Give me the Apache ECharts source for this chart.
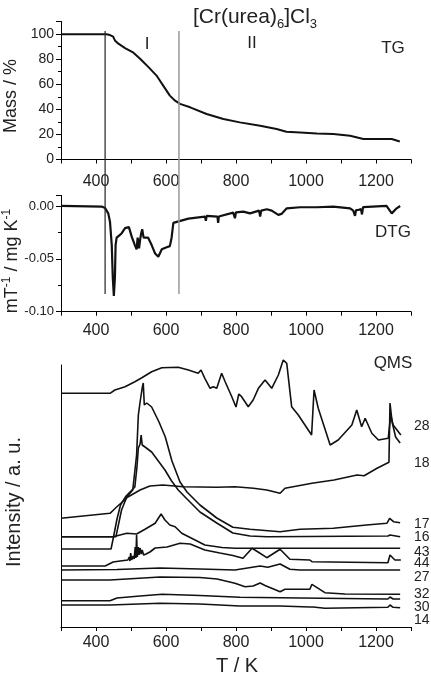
<!DOCTYPE html>
<html><head><meta charset="utf-8">
<script src="https://cdn.jsdelivr.net/npm/echarts@6/dist/echarts.min.js"></script>
<style>html,body{margin:0;padding:0;background:#fff}#c{width:431px;height:675px}</style>
</head><body><div id="c"></div>
<script>
// ---------- data (T in K) ----------
const tgMass = [[300,99.8],[430,99.8],[440,99.2],[449,97.9],[454,94.9],[464,92.3],[483,88.8],[507,85.1],[526,80.3],[550,73.6],[573,66.9],[592,58.9],[611,50.9],[626,46.9],[640,44.3],[669,41.6],[716,36.3],[764,32.3],[811,29.6],[869,26.9],[916,24.3],[944,22.1],[983,21.6],[1031,20.8],[1078,20.3],[1126,18.9],[1164,16.3],[1245,16.3],[1249,14.9],[1268,14.4]];
const dtg = [[300,0],[416,-0.0006],[426,-0.002],[435,-0.007],[440,-0.015],[445,-0.037],[448,-0.068],[451,-0.085],[454,-0.068],[456,-0.037],[459,-0.030],[466,-0.028],[473,-0.026],[483,-0.021],[494,-0.020],[502,-0.029],[511,-0.037],[516,-0.041],[519,-0.030],[523,-0.040],[526,-0.032],[529,-0.026],[532,-0.022],[536,-0.030],[540,-0.029],[549,-0.030],[559,-0.037],[569,-0.045],[578,-0.048],[588,-0.041],[602,-0.039],[611,-0.038],[616,-0.030],[621,-0.016],[631,-0.015],[664,-0.012],[711,-0.010],[714,-0.014],[716,-0.0094],[747,-0.010],[749,-0.016],[751,-0.010],[792,-0.0063],[797,-0.0116],[800,-0.006],[821,-0.0053],[840,-0.007],[866,-0.0044],[869,-0.010],[872,-0.0044],[888,-0.0031],[902,-0.0044],[921,-0.0084],[930,-0.0075],[945,-0.0022],[983,-0.0012],[1031,-0.0012],[1078,-0.0006],[1126,-0.0022],[1135,-0.0044],[1140,-0.0094],[1143,-0.004],[1149,-0.0038],[1157,-0.003],[1160,-0.008],[1163,-0.001],[1164,0],[1230,0],[1245,-0.007],[1259,-0.0022],[1269,0]];
const stageBounds = [426, 637];

// QMS ion currents, arbitrary units
const qms28 = [[300,233.7],[440,233.7],[454,237],[483,240.3],[511,245.3],[531,249.3],[559,255.3],[588,259.3],[635,259.7],[664,257],[692,253.7],[700,257],[711,248.7],[726,238.7],[735,240.3],[745,238.7],[759,253.7],[769,245.3],[788,230.3],[800,220],[808,233],[816,230.3],[835,220.3],[849,227],[864,238.7],[883,247],[902,238.7],[921,252],[935,267],[945,263.7],[959,220.3],[978,212],[1016,192],[1023,237],[1035,218.7],[1069,182],[1092,187],[1131,202],[1145,217],[1159,200.3],[1169,208.7],[1188,193.7],[1207,187],[1235,188.7],[1242,212],[1249,202],[1271,192]];
const qms18 = [[300,108.7],[440,113.7],[450,117],[459,120],[491,130],[526,137],[554,141],[591,142],[649,140.3],[746,139.7],[797,140.3],[850,138.7],[888,137],[926,133.7],[940,138.7],[1017,143.7],[1080,147],[1146,152],[1166,151.3],[1203,158.7],[1237,164.7],[1240,224],[1246,205],[1256,190],[1269,184]];
const qms17 = [[300,90.3],[457,90.3],[473,117],[488,130],[505,137],[516,172],[521,212],[526,225],[532,239],[535,244],[538,222],[545,224],[559,220],[580,205],[598,190],[617,166],[640,145],[660,135],[697,122],[745,109],[791,99.7],[840,97.7],[926,95.3],[983,97.7],[1078,98.7],[1173,102],[1231,103.7],[1239,108.7],[1250,105.3],[1269,104.3]];
const qms16 = [[300,78],[443,78],[450,90],[460,108],[470,122],[486,131],[500,136],[511,140],[517,160],[521,179],[526,183],[529,192],[532,182],[540,180],[559,175],[578,166],[597,157],[616,146],[635,137],[660,128],[697,115],[745,104],[791,94],[840,91],[889,90.3],[1234,91],[1240,92],[1269,90.3]];
const qms43 = [[300,90.3],[449,90.3],[488,93.7],[516,93],[540,97.7],[569,103.7],[586,113],[597,107],[611,102],[626,100.3],[645,93.7],[683,87],[711,82],[760,79.5],[797,78.7],[1269,78.7]];
const qms44 = [[300,61],[426,61],[449,65],[469,66],[491,67],[495,70],[497,66],[499,74],[502,67],[506,71],[509,68],[512,80],[514,69],[516,92],[518,70],[521,80],[523,72],[526,79],[529,73],[532,77],[536,72],[543,73],[554,75],[569,79],[603,80],[640,83.7],[669,83],[711,77],[754,74],[791,71.5],[820,68.7],[846,78.7],[863,75],[888,69.3],[926,77.7],[954,67.7],[1011,67],[1017,65.3],[1234,64.3],[1240,72],[1254,67],[1271,67]];
const qms27 = [[300,57],[460,57.5],[583,59],[697,58],[797,57],[869,61],[891,59.7],[926,63],[954,57.7],[983,57],[1269,57]];
const qms32 = [[300,47],[440,47],[583,50],[697,49.5],[746,48],[797,43.7],[826,40.3],[849,41],[869,44],[883,41.5],[926,35.3],[940,37.7],[1011,37.7],[1017,42.7],[1054,34.3],[1111,33],[1269,32.7]];
const qms30 = [[300,26.3],[440,26.3],[460,29],[526,31],[589,32.7],[697,31.5],[811,29.7],[983,29],[1234,28],[1240,30],[1249,28],[1269,28]];
const qms14 = [[300,22],[440,22],[583,23.7],[697,23],[811,21],[926,21],[1011,20],[1014,22],[1020,20],[1054,18.7],[1234,19.7],[1240,22],[1249,19.7],[1269,19.3]];
const qmsSeries = [qms28, qms18, qms17, qms16, qms43, qms44, qms27, qms32, qms30, qms14];
const qmsLabels = ['28','18','17','16','43','44','27','32','30','14'];
const xTickLabels = [400, 600, 800, 1000, 1200];

// ---------- chart ----------
const FONT = '"Liberation Sans", Arial, sans-serif';
const TXT = '#222';
const chart = echarts.init(document.getElementById('c'), null, {renderer: 'canvas'});

function xAxisFor(gi, margin, show) {
  return {
    gridIndex: gi, type: 'value', min: 300, max: 1300, interval: 100, show: show !== false,
    axisLine: {show: true, onZero: false, lineStyle: {color: '#000', width: 1}},
    axisTick: {show: true, length: 4, lineStyle: {color: '#000'}},
    axisLabel: {margin: margin, fontSize: 16, color: TXT, fontFamily: FONT,
      formatter: v => xTickLabels.indexOf(v) >= 0 ? String(v) : ''},
    splitLine: {show: false}
  };
}

const qmsLabelY = [426, 463, 524, 537, 552, 563, 577, 594, 607, 620];

const graphic = [
  {type: 'text', x: 255, y: 17, style: {text: '{m|[Cr(urea)}{s|6}{m|]Cl}{s|3}', align: 'center', verticalAlign: 'middle', fill: TXT, font: '21px ' + FONT,
    rich: {m: {fontSize: 21, fontFamily: FONT, fill: TXT}, s: {fontSize: 13, fontFamily: FONT, fill: TXT, padding: [14, 0, 0, 0]}}}},
  {type: 'text', x: 147, y: 44, style: {text: 'I', align: 'center', verticalAlign: 'middle', fill: TXT, font: '17px ' + FONT}},
  {type: 'text', x: 252, y: 43, style: {text: 'II', align: 'center', verticalAlign: 'middle', fill: TXT, font: '17px ' + FONT}},
  {type: 'text', x: 393, y: 48, style: {text: 'TG', align: 'center', verticalAlign: 'middle', fill: TXT, font: '17px ' + FONT}},
  {type: 'text', x: 393, y: 232, style: {text: 'DTG', align: 'center', verticalAlign: 'middle', fill: TXT, font: '17px ' + FONT}},
  {type: 'text', x: 393, y: 363, style: {text: 'QMS', align: 'center', verticalAlign: 'middle', fill: TXT, font: '17px ' + FONT}},
  {type: 'text', x: 11, y: 96, rotation: Math.PI / 2, style: {text: 'Mass / %', align: 'center', verticalAlign: 'middle', fill: TXT, font: '18px ' + FONT}},
  {type: 'text', x: 12, y: 261, rotation: Math.PI / 2, style: {text: '{a|mT}{s|-1}{a| / mg K}{s|-1}', align: 'center', verticalAlign: 'middle', fill: TXT, font: '18px ' + FONT,
    rich: {a: {fontSize: 18, fontFamily: FONT, fill: TXT}, s: {fontSize: 12, fontFamily: FONT, fill: TXT, padding: [0, 0, 10, 0]}}}},
  {type: 'text', x: 14, y: 502, rotation: Math.PI / 2, style: {text: 'Intensity / a. u.', align: 'center', verticalAlign: 'middle', fill: TXT, font: '20px ' + FONT}},
  {type: 'text', x: 237, y: 666, style: {text: 'T / K', align: 'center', verticalAlign: 'middle', fill: TXT, font: '20px ' + FONT}}
];
qmsLabels.forEach((t, i) => graphic.push({type: 'text', x: 414, y: qmsLabelY[i], style: {text: t, align: 'left', verticalAlign: 'middle', fill: TXT, font: '14px ' + FONT}}));

const series = [
  {type: 'line', xAxisIndex: 0, yAxisIndex: 0, data: tgMass, symbol: 'none', lineStyle: {color: '#111', width: 2}},
  {type: 'line', xAxisIndex: 1, yAxisIndex: 1, data: dtg, symbol: 'none', lineStyle: {color: '#111', width: 2.2}},
  {type: 'line', xAxisIndex: 3, yAxisIndex: 3, data: [[stageBounds[0], 0], [stageBounds[0], 1]], symbol: 'none', lineStyle: {color: '#222', width: 1.2}},
  {type: 'line', xAxisIndex: 3, yAxisIndex: 3, data: [[stageBounds[1], 0], [stageBounds[1], 1]], symbol: 'none', lineStyle: {color: '#999', width: 1.5}}
];
qmsSeries.forEach(d => series.push({type: 'line', xAxisIndex: 2, yAxisIndex: 2, data: d, symbol: 'none', clip: false, lineStyle: {color: '#111', width: 1.6}}));

chart.setOption({
  animation: false,
  backgroundColor: '#fff',
  grid: [
    {left: 61, width: 350, top: 21.5, height: 138},
    {left: 61, width: 350, top: 195.4, height: 116.3},
    {left: 61, width: 350, top: 365, height: 262},
    {left: 61, width: 350, top: 31, height: 263}
  ],
  xAxis: [xAxisFor(0, 14), xAxisFor(1, 11), xAxisFor(2, 8), Object.assign(xAxisFor(3, 8), {show: false})],
  yAxis: [
    {gridIndex: 0, type: 'value', min: 0, max: 110, interval: 20,
      axisLine: {show: true, onZero: false, lineStyle: {color: '#000'}},
      axisTick: {show: true, length: 5, lineStyle: {color: '#000'}},
      minorTick: {show: true, splitNumber: 2, length: 3, lineStyle: {color: '#000'}},
      axisLabel: {margin: 7, fontSize: 14, color: TXT, fontFamily: FONT, formatter: v => v <= 100 ? String(v) : ''},
      splitLine: {show: false}},
    {gridIndex: 1, type: 'value', min: -0.10, max: 0.01, interval: 0.05,
      axisLine: {show: true, onZero: false, lineStyle: {color: '#000'}},
      axisTick: {show: true, length: 5, lineStyle: {color: '#000'}},
      minorTick: {show: true, splitNumber: 2, length: 3, lineStyle: {color: '#000'}},
      axisLabel: {margin: 7, fontSize: 13, color: TXT, fontFamily: FONT, showMaxLabel: false,
        formatter: v => v > 0.005 ? '' : (Math.abs(v) < 1e-9 ? '0.00' : v.toFixed(2))},
      splitLine: {show: false}},
    {gridIndex: 2, type: 'value', min: 0, max: 262,
      axisLine: {show: true, onZero: false, lineStyle: {color: '#000'}},
      axisTick: {show: false}, axisLabel: {show: false}, splitLine: {show: false}},
    {gridIndex: 3, type: 'value', min: 0, max: 1, show: false, splitLine: {show: false}}
  ],
  graphic: graphic,
  series: series
});
</script></body></html>
